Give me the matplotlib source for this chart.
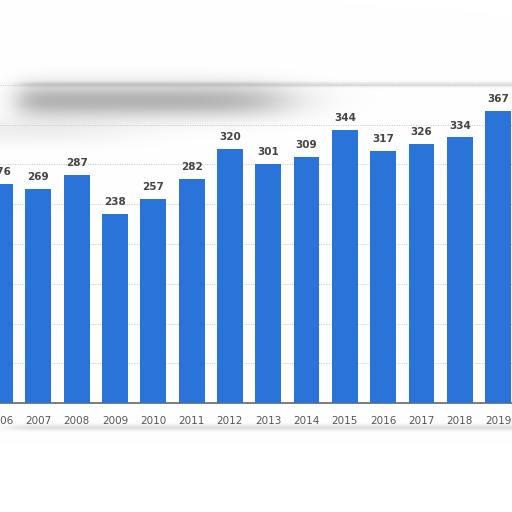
import numpy as np
import matplotlib
matplotlib.use("Agg")
import matplotlib.pyplot as plt

years = ["2006", "2007", "2008", "2009", "2010", "2011", "2012",
         "2013", "2014", "2015", "2016", "2017", "2018", "2019"]
values = [276, 269, 287, 238, 257, 282, 320, 301, 309, 344, 317, 326, 334, 367]

BAR = "#2a74d9"

fig = plt.figure(figsize=(5.12, 5.12), dpi=100)
fig.patch.set_facecolor("white")

# decorative blurred band at the top (background)
bg = fig.add_axes([0, 0, 1, 1], zorder=0)
bg.set_xlim(0, 512)
bg.set_ylim(512, 0)
bg.axis("off")
xx, yy = np.meshgrid(np.arange(512), np.arange(512))
band = np.exp(-((yy - 100) / 17.0) ** 2) * (1 / (1 + np.exp((xx - 280) / 22.0))) \
    * (1 / (1 + np.exp(-(xx - 18) / 8.0)))
band2 = 0.5 * np.exp(-((yy - 130) / 14.0) ** 2) * (1 / (1 + np.exp((xx - 120) / 30.0)))
edge = 0.12 * np.exp(-((yy - 84) / 2.5) ** 2) * (1 / (1 + np.exp(-(xx - 20) / 6.0)))
shadow = 0.12 * np.exp(-((yy - 427) / 3.0) ** 2) * (1 / (1 + np.exp(-(xx - 10) / 8.0)))
dark = np.clip(0.30 * band + 0.12 * band2 + edge + shadow, 0, 1)
rgb = np.dstack([1 - dark] * 3)
bg.imshow(rgb, extent=(0, 512, 512, 0), aspect="auto", interpolation="bilinear")

# main axes
base_px = 403
top_px = 60
ax = fig.add_axes([0, (512 - base_px) / 512, 1, (base_px - top_px) / 512], zorder=1)
ax.patch.set_alpha(0)
ppu = 0.795
ax.set_ylim(0, (base_px - top_px) / ppu)
spacing = 38.5
x0 = -2.5
ax.set_xlim(-x0 / spacing, (512 - x0) / spacing)

idx = np.arange(len(years))
bars = ax.bar(idx, values, width=26 / spacing, color=BAR, zorder=3)
for xi, v in zip(idx, values):
    ax.annotate(str(v), (xi, v), xytext=(0, 5), textcoords="offset points",
                ha="center", va="bottom", fontsize=7.5, fontweight="bold",
                color="#444444", zorder=4)

ax.set_yticks(np.arange(0, 401, 50))
ax.yaxis.grid(True, linestyle=(0, (1, 1.5)), color="#c4c4c4", linewidth=0.7, zorder=0)
ax.tick_params(axis="y", left=False, labelleft=False)
ax.set_xticks(idx)
ax.set_xticklabels(years, fontsize=7.5, color="#555555")
ax.tick_params(axis="x", length=0, pad=9)
for s in ["top", "right", "left"]:
    ax.spines[s].set_visible(False)
ax.spines["bottom"].set_color("#666666")
ax.spines["bottom"].set_linewidth(1.2)

fig.savefig("out.png", dpi=100, facecolor="white")
